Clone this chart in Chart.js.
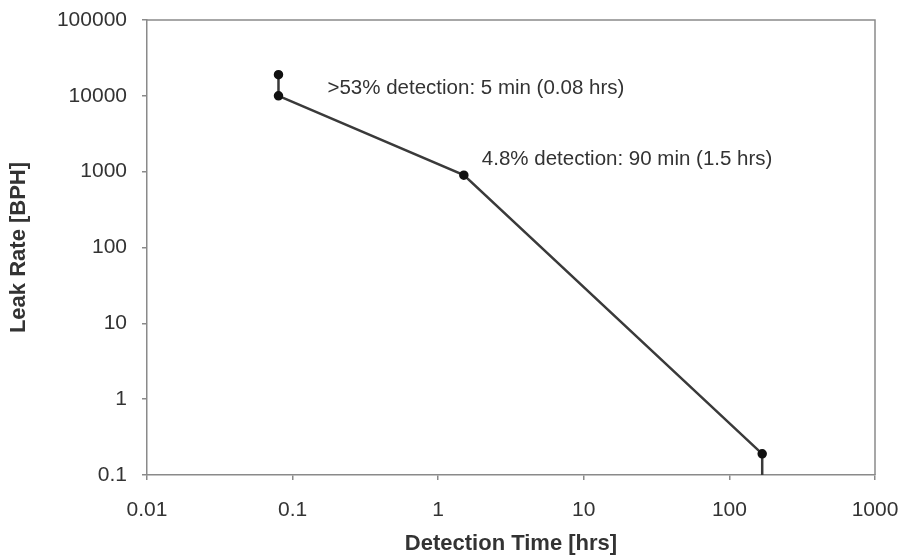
<!DOCTYPE html>
<html>
<head>
<meta charset="utf-8">
<script src="https://cdn.jsdelivr.net/npm/chart.js@4/dist/chart.umd.min.js"></script>
<style>
  html, body { margin: 0; padding: 0; background: #fff; }
  canvas { display: block; }
</style>
</head>
<body>
<canvas id="leakChart" width="901" height="557"></canvas>
<script>
// detection time vs leak rate (log-log)
const detectionHrs = [0.08, 1.5, 168];
const leakRateBph = [10000, 900, 0.19];

// short vertical range marks at both ends
const upperRangeX = [0.08, 0.08];
const upperRangeY = [19000, 10000];
const lowerRangeX = [168, 168];
const lowerRangeY = [0.19, 0.1];

const xTicks = [0.01, 0.1, 1, 10, 100, 1000];
const yTicks = [0.1, 1, 10, 100, 1000, 10000, 100000];

const noteTexts = ['>53% detection: 5 min (0.08 hrs)', '4.8% detection: 90 min (1.5 hrs)'];
const notePoints = [0, 1]; // index into detectionHrs / leakRateBph

const toXY = (xs, ys) => xs.map((x, i) => ({ x: x, y: ys[i] }));

const lineColor = '#3a3a3a';
const axisColor = '#8a8a8a';
const textColor = '#333';

// box around the plot + the annotation text
const boxAndNotes = {
    id: 'boxAndNotes',
    afterDraw(chart) {
        const { ctx, chartArea: a, scales } = chart;
        ctx.save();
        ctx.strokeStyle = axisColor;
        ctx.lineWidth = 1.5;
        ctx.beginPath();
        ctx.moveTo(a.left, a.top);
        ctx.lineTo(a.right, a.top);
        ctx.lineTo(a.right, a.bottom);
        ctx.stroke();

        ctx.fillStyle = textColor;
        ctx.font = '20.5px "Liberation Sans", Arial, sans-serif';
        ctx.textBaseline = 'middle';
        ctx.textAlign = 'left';
        const offs = [[49, -7], [18, -16]];
        notePoints.forEach((idx, i) => {
            const px = scales.x.getPixelForValue(detectionHrs[idx]);
            const py = scales.y.getPixelForValue(leakRateBph[idx]);
            ctx.fillText(noteTexts[i], px + offs[i][0], py + offs[i][1]);
        });
        ctx.restore();
    }
};

const tickFont = { family: '"Liberation Sans", Arial, sans-serif', size: 21 };
const titleFont = { family: '"Liberation Sans", Arial, sans-serif', size: 22, weight: 'bold' };

new Chart(document.getElementById('leakChart'), {
    type: 'line',
    data: {
        datasets: [
            {
                data: toXY(detectionHrs, leakRateBph),
                borderColor: lineColor,
                borderWidth: 2.5,
                pointRadius: 3.5,
                pointBackgroundColor: '#111',
                pointBorderColor: '#111',
                tension: 0,
                clip: false
            },
            {
                data: toXY(upperRangeX, upperRangeY),
                borderColor: lineColor,
                borderWidth: 2.5,
                pointRadius: [3.5, 0],
                pointBackgroundColor: '#111',
                pointBorderColor: '#111',
                clip: false
            },
            {
                data: toXY(lowerRangeX, lowerRangeY),
                borderColor: lineColor,
                borderWidth: 2.5,
                pointRadius: 0,
                clip: false
            }
        ]
    },
    options: {
        responsive: false,
        animation: false,
        devicePixelRatio: 1,
        layout: { padding: { left: 0, top: 20, right: 26, bottom: 0 } },
        plugins: {
            legend: { display: false },
            tooltip: { enabled: false }
        },
        scales: {
            x: {
                type: 'logarithmic',
                min: 0.01,
                max: 1000,
                afterBuildTicks: (s) => { s.ticks = xTicks.map(v => ({ value: v })); },
                afterFit: (s) => { s.height = 82; s.paddingLeft = 0; s.paddingRight = 0; },
                ticks: {
                    autoSkip: false,
                    maxRotation: 0,
                    color: textColor,
                    font: tickFont,
                    padding: 18,
                    callback: (v) => String(v)
                },
                grid: { drawOnChartArea: false, drawTicks: true, tickLength: 5, color: axisColor, lineWidth: 1.5 },
                border: { display: true, color: axisColor, width: 1.5 },
                title: { display: true, text: 'Detection Time [hrs]', color: textColor, font: titleFont, padding: { top: 0, bottom: 0 } }
            },
            y: {
                type: 'logarithmic',
                min: 0.1,
                max: 100000,
                afterBuildTicks: (s) => { s.ticks = yTicks.map(v => ({ value: v })); },
                afterFit: (s) => { s.width = 147; s.paddingTop = 0; s.paddingBottom = 0; },
                ticks: {
                    autoSkip: false,
                    color: textColor,
                    font: tickFont,
                    padding: 15,
                    callback: (v) => String(v)
                },
                grid: { drawOnChartArea: false, drawTicks: true, tickLength: 5, color: axisColor, lineWidth: 1.5 },
                border: { display: true, color: axisColor, width: 1.5 },
                title: { display: true, text: 'Leak Rate [BPH]', color: textColor, font: titleFont, padding: { top: 6, bottom: 0 } }
            }
        }
    },
    plugins: [boxAndNotes]
});
</script>
</body>
</html>
